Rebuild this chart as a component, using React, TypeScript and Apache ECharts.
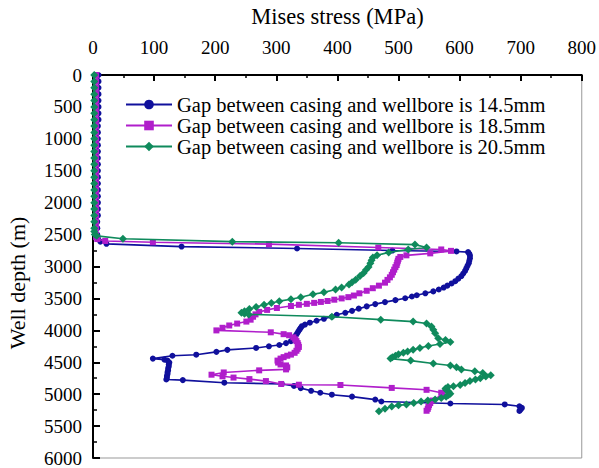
import React, { useEffect, useRef } from "react";
import * as echarts from "echarts";

const xTicks = [0, 100, 200, 300, 400, 500, 600, 700, 800];
const yTicks = [0, 500, 1000, 1500, 2000, 2500, 3000, 3500, 4000, 4500, 5000, 5500, 6000];

const seriesNames = [
  "Gap between casing and wellbore is 14.5mm",
  "Gap between casing and wellbore is 18.5mm",
  "Gap between casing and wellbore is 20.5mm",
];

// [Mises stress (MPa), well depth (m)]
const gap145: [number, number][] = [
  [9, 0], [9, 100], [9, 200], [9, 300], [9, 400], [9, 500], [9, 600], [9, 700], [8, 800], [8, 900],
  [8, 1000], [8, 1100], [8, 1200], [8, 1300], [8, 1400], [8, 1500], [8, 1600], [8, 1700], [8, 1800],
  [8, 1900], [8, 2000], [8, 2100], [8, 2200], [7, 2300], [7, 2400], [7, 2500], [8, 2560], [12, 2610],
  [22, 2645], [145, 2688], [334, 2718], [490, 2750], [595, 2764], [614, 2775], [616, 2800], [617, 2830],
  [617, 2870], [616, 2910], [615, 2950], [613, 2990], [611, 3030], [609, 3070], [606, 3110], [603, 3150],
  [598, 3190], [593, 3230], [587, 3265], [580, 3300], [574, 3330], [566, 3360], [557, 3390], [544, 3420],
  [530, 3450], [522, 3470], [511, 3497], [495, 3527], [478, 3558], [462, 3589], [448, 3625], [435, 3660],
  [424, 3695], [413, 3726], [399, 3757], [391, 3787], [378, 3820], [366, 3850], [355, 3880], [347, 3910],
  [342, 3935], [340, 3960], [338, 3990], [336, 4020], [334, 4050], [332, 4080], [330, 4110], [328, 4140],
  [324, 4170], [316, 4200], [305, 4230], [288, 4250], [267, 4276], [220, 4306], [202, 4337], [169, 4382],
  [130, 4398], [98, 4443], [117, 4459], [122, 4474], [125, 4505], [124, 4535], [124, 4565], [123, 4595],
  [123, 4625], [122, 4655], [122, 4685], [121, 4715], [121, 4745], [120, 4770], [147, 4780], [215, 4820],
  [309, 4840], [329, 4871], [340, 4905], [357, 4947], [372, 4978], [391, 5008], [424, 5039], [462, 5085],
  [472, 5115], [585, 5146], [674, 5161], [698, 5190], [702, 5215], [700, 5240], [698, 5262],
];

const gap185: [number, number][] = [
  [5, 0], [5, 100], [5, 200], [5, 300], [5, 400], [5, 500], [5, 600], [5, 700], [5, 800], [5, 900],
  [5, 1000], [5, 1100], [5, 1200], [5, 1300], [5, 1400], [5, 1500], [5, 1600], [5, 1700], [5, 1800],
  [5, 1900], [5, 2000], [5, 2100], [5, 2200], [5, 2300], [5, 2400], [5, 2500], [5, 2540], [7, 2570],
  [20, 2600], [98, 2620], [288, 2650], [467, 2703], [570, 2733], [586, 2755], [552, 2794], [513, 2825],
  [503, 2850], [500, 2880], [499, 2910], [498, 2940], [497, 2977], [495, 3010], [493, 3050], [491, 3090],
  [489, 3130], [486, 3170], [482, 3210], [478, 3253], [468, 3300], [458, 3340], [448, 3380], [436, 3420],
  [427, 3455], [418, 3480], [407, 3500], [395, 3520], [384, 3540], [373, 3555], [362, 3570], [350, 3585],
  [337, 3600], [324, 3619], [301, 3650], [285, 3680], [272, 3711], [266, 3750], [262, 3787], [258, 3833],
  [251, 3863], [236, 3894], [223, 3924], [212, 3960], [202, 4001], [291, 4031], [312, 4060], [321, 4077],
  [328, 4110], [331, 4140], [333, 4169], [335, 4200], [336, 4230], [337, 4260], [335, 4290], [333, 4320],
  [330, 4352], [324, 4380], [318, 4398], [312, 4420], [307, 4443], [302, 4474], [303, 4505], [307, 4535],
  [316, 4550], [318, 4580], [316, 4612], [272, 4627], [214, 4660], [194, 4695], [212, 4720], [230, 4740],
  [256, 4764], [283, 4795], [308, 4840], [337, 4852], [405, 4856], [489, 4902], [546, 4932], [570, 4978],
  [572, 5000], [556, 5100], [552, 5140], [550, 5170], [549, 5200], [548, 5230], [546, 5260],
];

const gap205: [number, number][] = [
  [2, 0], [2, 100], [2, 200], [2, 300], [2, 400], [2, 500], [2, 600], [2, 700], [2, 800], [2, 900],
  [2, 1000], [2, 1100], [2, 1200], [2, 1300], [2, 1400], [2, 1500], [2, 1600], [2, 1700], [2, 1800],
  [2, 1900], [2, 2000], [2, 2100], [2, 2200], [2, 2300], [2, 2400], [2, 2450], [3, 2500], [6, 2520],
  [49, 2565], [228, 2611], [402, 2627], [527, 2657], [546, 2703], [516, 2733], [484, 2779], [465, 2825],
  [458, 2860], [456, 2901], [454, 2950], [451, 3008], [447, 3050], [443, 3100], [437, 3150], [430, 3207],
  [424, 3245], [419, 3283], [407, 3329], [397, 3359], [378, 3405], [360, 3436], [340, 3482], [324, 3512],
  [305, 3543], [292, 3573], [280, 3600], [267, 3634], [256, 3665], [248, 3700], [243, 3726], [248, 3741],
  [255, 3750], [391, 3787], [471, 3833], [524, 3863], [546, 3894], [554, 3940], [557, 3990], [560, 4047],
  [565, 4123], [577, 4153], [585, 4184], [568, 4214], [549, 4245], [535, 4275], [524, 4306], [515, 4330],
  [508, 4352], [500, 4375], [495, 4398], [490, 4420], [487, 4443], [520, 4474], [557, 4520], [585, 4550],
  [595, 4580], [603, 4612], [625, 4642], [638, 4670], [651, 4703], [643, 4725], [634, 4749], [626, 4770],
  [617, 4795], [609, 4825], [601, 4856], [590, 4875], [581, 4886], [577, 4910], [578, 4932], [582, 4960],
  [585, 4993], [582, 5015], [578, 5039], [570, 5060], [560, 5085], [548, 5100], [537, 5115], [525, 5140],
  [513, 5161], [500, 5175], [489, 5192], [478, 5230], [468, 5268],
];

const colors = ["#10109c", "#b01ecb", "#0f8a5c"];
const symbols = ["circle", "rect", "diamond"];
const symbolSizes = [6, 6, 8];

const FONT = '"Liberation Serif", "Times New Roman", serif';

export default function App() {
  const ref = useRef<HTMLDivElement>(null);
  useEffect(() => {
    if (!ref.current) return;
    const chart = echarts.init(ref.current, undefined, { renderer: "svg" });
    const datasets = [gap145, gap185, gap205];
    chart.setOption({
      animation: false,
      backgroundColor: "#ffffff",
      textStyle: { fontFamily: FONT },
      grid: {
        left: 93,
        top: 65,
        right: 15,
        bottom: 10,
        show: true,
        borderColor: "#999999",
        borderWidth: 1,
      },
      legend: {
        orient: "vertical",
        left: 125,
        top: 94,
        itemWidth: 46,
        itemHeight: 12,
        itemGap: 0,
        padding: 0,
        data: seriesNames,
        textStyle: { fontFamily: FONT, fontSize: 20.5, color: "#000", lineHeight: 19, height: 19 },
      },
      xAxis: {
        type: "value",
        position: "top",
        min: xTicks[0],
        max: xTicks[xTicks.length - 1],
        interval: 100,
        name: "Mises stress (MPa)",
        nameLocation: "middle",
        nameGap: 47,
        nameTextStyle: { fontFamily: FONT, fontSize: 22.5, color: "#000" },
        axisLine: { show: true, lineStyle: { color: "#000", width: 2 } },
        axisTick: { show: true, inside: true, length: 6, lineStyle: { color: "#000", width: 2 } },
        minorTick: { show: true, splitNumber: 2, length: 3, lineStyle: { color: "#000", width: 1.5 } },
        axisLabel: { fontFamily: FONT, fontSize: 19, color: "#000", margin: 18 },
        splitLine: { show: false },
      },
      yAxis: {
        type: "value",
        inverse: true,
        min: yTicks[0],
        max: yTicks[yTicks.length - 1],
        interval: 500,
        axisLine: { show: true, lineStyle: { color: "#000", width: 2 } },
        axisTick: { show: true, inside: true, length: 7, lineStyle: { color: "#000", width: 2 } },
        minorTick: { show: true, splitNumber: 2, length: 4, lineStyle: { color: "#000", width: 1.5 } },
        axisLabel: {
          fontFamily: FONT,
          fontSize: 19,
          color: "#000",
          margin: 11,
          formatter: (v: number) => String(v),
        },
        splitLine: { show: false },
      },
      graphic: [
        {
          type: "text",
          x: 17,
          y: 283,
          rotation: Math.PI / 2,
          style: {
            text: "Well depth (m)",
            font: '22px "Liberation Serif"',
            fill: "#000",
            align: "center",
            verticalAlign: "middle",
            textAlign: "center",
            textVerticalAlign: "middle",
          },
        },
      ],
      series: datasets.map((d, i) => ({
        name: seriesNames[i],
        type: "line",
        data: d,
        symbol: symbols[i],
        symbolSize: symbolSizes[i],
        showSymbol: true,
        color: colors[i],
        lineStyle: { color: colors[i], width: 1.6 },
        itemStyle: { color: colors[i] },
        z: 2 + i,
      })),
    });
    return () => chart.dispose();
  }, []);
  return (
    <div
      ref={ref}
      style={{ position: "fixed", left: 0, top: 0, width: 599, height: 468, background: "#fff" }}
    />
  );
}
